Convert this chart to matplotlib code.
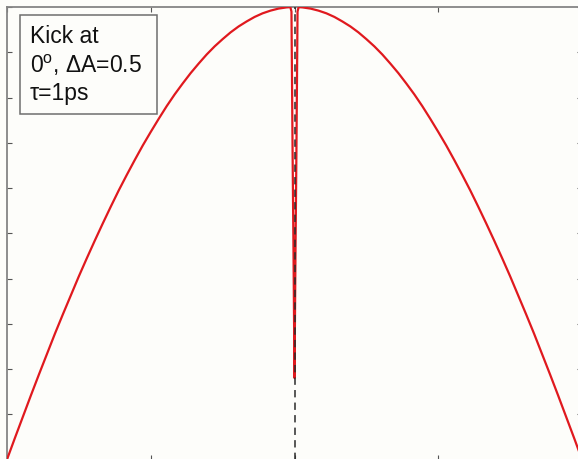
import matplotlib
matplotlib.use("Agg")
import matplotlib.pyplot as plt
from matplotlib.patches import Rectangle

# Angle (degrees) and normalised signal after the kick
angle = [-90, -87.5, -85, -82.5, -80, -77.5, -75, -72.5, -70, -67.5, -65,
         -62.5, -60, -57.5, -55, -52.5, -50, -47.5, -45, -42.5, -40, -37.5,
         -35, -32.5, -30, -27.5, -25, -22.5, -20, -17.5, -15, -12.5, -10,
         -7.5, -5, -2.5, -1.3, -0.95, -0.6, -0.3, 0.0, 0.3, 0.6, 0.95, 1.3,
         2.5, 5, 7.5, 10, 12.5, 15, 17.5, 20, 22.5, 25, 27.5, 30, 32.5, 35,
         37.5, 40, 42.5, 45, 47.5, 50, 52.5, 55, 57.5, 60, 62.5, 65, 67.5,
         70, 72.5, 75, 77.5, 80, 82.5, 85, 87.5, 90]
signal = [0.0, 0.048, 0.095, 0.142, 0.188, 0.233, 0.278, 0.321, 0.363, 0.405,
          0.445, 0.484, 0.522, 0.559, 0.595, 0.629, 0.662, 0.694, 0.724,
          0.753, 0.781, 0.807, 0.831, 0.854, 0.875, 0.895, 0.913, 0.929,
          0.944, 0.957, 0.968, 0.978, 0.986, 0.992, 0.9965, 0.9991, 0.9997,
          0.99, 0.68, 0.45, 0.18, 0.45, 0.68, 0.99, 0.9997,
          0.9991, 0.9965, 0.992, 0.986, 0.978, 0.968, 0.957, 0.944, 0.929,
          0.913, 0.895, 0.875, 0.854, 0.831, 0.807, 0.781, 0.753, 0.724,
          0.694, 0.662, 0.629, 0.595, 0.559, 0.522, 0.484, 0.445, 0.405,
          0.363, 0.321, 0.278, 0.233, 0.188, 0.142, 0.095, 0.048, 0.0]

kick_angle = 0
x_ticks = [-90, -45, 0, 45, 90]
y_ticks = [0.0, 0.1, 0.2, 0.3, 0.4, 0.5, 0.6, 0.7, 0.8, 0.9, 1.0]
label_lines = ["Kick at", r"0$^{\rm o}$, ΔA=0.5", "τ=1ps"]

plt.rcParams["font.family"] = ["Liberation Sans", "DejaVu Sans"]
plt.rcParams["mathtext.fontset"] = "custom"
plt.rcParams["mathtext.rm"] = "Liberation Sans"

W, H = 578, 459
bg = "#fdfdfa"
fig = plt.figure(figsize=(W / 100, H / 100), dpi=100, facecolor=bg)


def fx(px):
    return px / W


def fy(py):
    return 1 - py / H


left, right, top, bottom = 7, 582, 7, 459.5
ax = fig.add_axes([fx(left), fy(bottom), fx(right - left), (bottom - top) / H])
ax.set_facecolor(bg)

ax.plot(angle, signal, color="#e0191e", lw=1.6, zorder=3)
ax.axvline(kick_angle, color="#2a2a2a", lw=1.1, dashes=(4.8, 3.4), zorder=4)

ax.set_xlim(-90, 90)
ax.set_ylim(0, 1)
ax.set_xticks(x_ticks)
ax.set_yticks(y_ticks)
ax.tick_params(direction="in", length=3.6, width=0.8, color="#555555",
               top=True, right=True, labelbottom=False, labelleft=False)
for s in ax.spines.values():
    s.set_color("#858585")
    s.set_linewidth(1.3)

# annotation box
fig.patches.append(Rectangle((fx(20), fy(114)), fx(137), 99 / H,
                             transform=fig.transFigure, facecolor=bg,
                             edgecolor="#6e6e6e", lw=1.1, zorder=5))
baselines = [43, 73, 100]
for line, yb in zip(label_lines, baselines):
    fig.text(fx(30), fy(yb), line, fontsize=16.5, color="#111111",
             ha="left", va="baseline", zorder=6)

fig.savefig("out.png", dpi=100, facecolor=bg)
